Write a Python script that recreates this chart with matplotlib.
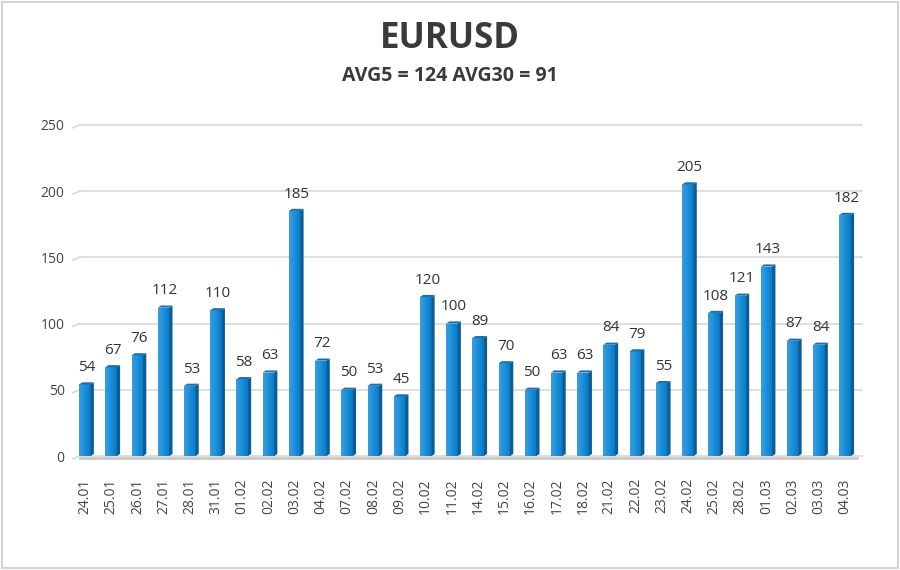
import numpy as np
import matplotlib
matplotlib.use("Agg")
import matplotlib.pyplot as plt
from matplotlib.patches import Polygon, Rectangle
from matplotlib.colors import LinearSegmentedColormap

dates = ["24.01", "25.01", "26.01", "27.01", "28.01", "31.01", "01.02", "02.02", "03.02", "04.02",
         "07.02", "08.02", "09.02", "10.02", "11.02", "14.02", "15.02", "16.02", "17.02", "18.02",
         "21.02", "22.02", "23.02", "24.02", "25.02", "28.02", "01.03", "02.03", "03.03", "04.03"]
values = [54, 67, 76, 112, 53, 110, 58, 63, 185, 72,
          50, 53, 45, 120, 100, 89, 70, 50, 63, 63,
          84, 79, 55, 205, 108, 121, 143, 87, 84, 182]
yticks = [0, 50, 100, 150, 200, 250]
title = "EURUSD"
subtitle = "AVG5 = 124 AVG30 = 91"

plt.rcParams['font.family'] = ['Open Sans', 'DejaVu Sans']

fig = plt.figure(figsize=(9, 5.7), dpi=100)
fig.patch.set_facecolor('white')
# border
fig.add_artist(Rectangle((0.002, 0.003), 0.996, 0.994, transform=fig.transFigure,
                         fill=False, edgecolor='#d4d4d4', linewidth=1.5))

ax = fig.add_axes([0.081, 0.2, 0.877, 0.581])
ax.set_xlim(-0.46, len(values) - 1 + 0.65)
ax.set_ylim(0, 250)
for s in ax.spines.values():
    s.set_visible(False)

# gridlines with perspective stub
for t in yticks:
    ax.plot([-0.2, len(values) - 1 + 0.65], [t, t], color='#d9d9d9', lw=1.2, zorder=0, clip_on=False)
    ax.plot([-0.46, -0.2], [t - 2.2, t], color='#d9d9d9', lw=1.2, zorder=0, clip_on=False)
# floor
ax.plot([-0.2, len(values) - 1 + 0.45], [-1.2, -1.2], color='#c8c8c8', lw=2.0, zorder=1, clip_on=False)

w = 0.44
dx, dy = 0.12, 1.6
grad = np.linspace(0, 1, 64).reshape(1, -1)
cmap = LinearSegmentedColormap.from_list('b', ['#3a9ee0', '#1b8fd9', '#0a78c4'])
xs = np.arange(len(values))
bars = ax.bar(xs, values, width=w, color='none', zorder=3)
for x, v, b in zip(xs, values, bars):
    im = ax.imshow(grad, extent=[x - w / 2, x + w / 2, 0, v], aspect='auto', cmap=cmap, zorder=3)
    im.set_clip_path(b)
    side = Polygon([[x + w / 2, 0], [x + w / 2 + dx, dy], [x + w / 2 + dx, v + dy], [x + w / 2, v]],
                   closed=True, facecolor='#0d5c93', edgecolor='none', zorder=3)
    ax.add_patch(side)
    top = Polygon([[x - w / 2, v], [x - w / 2 + dx, v + dy], [x + w / 2 + dx, v + dy], [x + w / 2, v]],
                  closed=True, facecolor='#1a6fae', edgecolor='none', zorder=3)
    ax.add_patch(top)
    ax.text(x + dx / 2, v + 7, str(v), ha='center', va='bottom', fontsize=11, color='#333333', zorder=4)

ax.set_yticks(yticks)
ax.set_yticklabels([str(t) for t in yticks], fontsize=10, color='#444444')
ax.set_xticks(xs)
ax.set_xticklabels(dates, rotation=90, fontsize=10, color='#444444')
ax.tick_params(axis='both', length=0)
ax.tick_params(axis='y', pad=6)
ax.tick_params(axis='x', pad=16)

fig.text(0.5, 0.932, title, ha='center', va='center', fontsize=25, fontweight='bold', color='#3a3a3a')
fig.text(0.5, 0.866, subtitle, ha='center', va='center', fontsize=14, fontweight='bold', color='#3a3a3a')

fig.savefig('out.png', dpi=100, facecolor='white')
